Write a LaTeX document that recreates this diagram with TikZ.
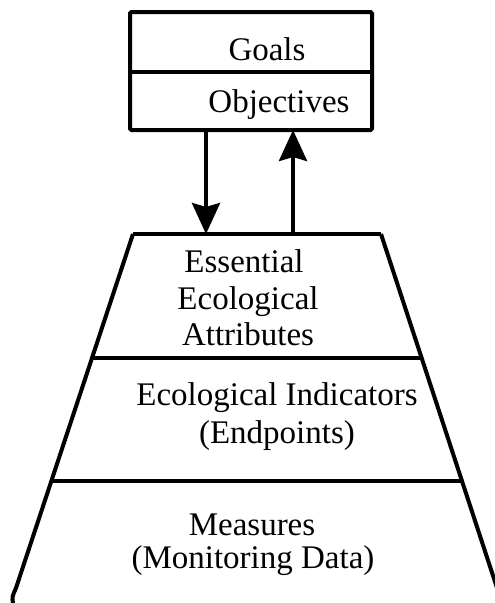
\documentclass[tikz,border=0pt]{standalone}
\usepackage{fontspec}
\setmainfont{Liberation Serif}
\usetikzlibrary{arrows.meta}
\begin{document}
\begin{tikzpicture}[x=1pt,y=-1pt,line width=4pt,line join=miter,
  lbl/.style={font=\fontsize{33}{36}\selectfont, anchor=base, inner sep=0pt},
  conn/.style={-{Stealth[length=31pt,width=28pt,inset=4pt]}, line width=4pt}]
\useasboundingbox (0,0) rectangle (495,603);
% top box
\draw[rounded corners=1.5pt] (130,12) rectangle (372,130);
\draw (130,72) -- (372,72);
\node[lbl] (goals) at (267,60) {Goals};
\node[lbl] (objectives) at (279,112) {Objectives};
% connector anchors
\coordinate (boxdown) at (206,130);
\coordinate (trapdown) at (206,234);
\coordinate (trapup) at (293,234);
\coordinate (boxup) at (293,130);
\draw[conn] (boxdown) -- (trapdown);
\draw[conn] (trapup) -- (boxup);
% trapezoid
\coordinate (tl) at (133,234);
\coordinate (tr) at (381,234);
\draw (tl) -- (tr);
\draw (tr) -- (501,600);
\draw (tl) -- (16,588) .. controls (12,597) .. (13,603);
\draw (92,358) -- (422,358);
\draw (52,481) -- (462,481);
% texts
\node[lbl] (essential) at (244,272) {Essential};
\node[lbl] (ecological) at (248,309) {Ecological};
\node[lbl] (attributes) at (248,345) {Attributes};
\node[lbl] (indicators) at (277,405) {Ecological Indicators};
\node[lbl] (endpoints) at (277,443) {(Endpoints)};
\node[lbl] (measures) at (252,535) {Measures};
\node[lbl] (monitoring) at (253,568) {(Monitoring Data)};
\end{tikzpicture}
\end{document}
